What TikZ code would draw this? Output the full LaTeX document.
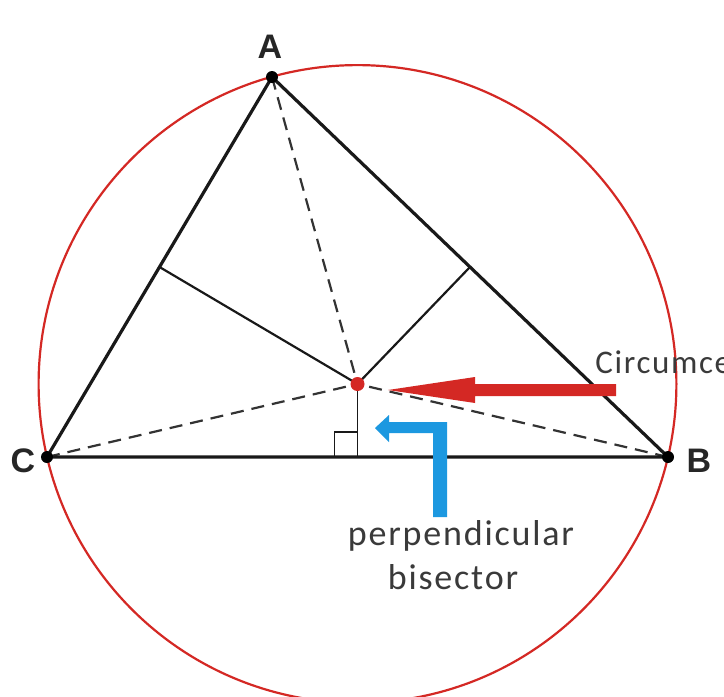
\documentclass[tikz,border=0pt]{standalone}
\usepackage{fontspec}
\setmainfont{Liberation Sans}
\newfontfamily\notefont[LetterSpace=5]{Carlito}
\usetikzlibrary{calc}
\definecolor{cred}{RGB}{212,40,36}
\definecolor{cblue}{RGB}{28,152,224}
\definecolor{ctext}{RGB}{58,58,58}
\begin{document}
\begin{tikzpicture}[x=0.5pt,y=-0.5pt,
  side/.style={line width=1.6pt,black!90},
  bis/.style={line width=1.1pt,black!90},
  dsh/.style={line width=1.1pt,black!80,dash pattern=on 6.5pt off 4pt},
  vdot/.style={circle,fill=black,inner sep=0pt,minimum size=6pt},
  vlabel/.style={font=\fontsize{17}{17}\selectfont\bfseries,text=black!85,inner sep=0pt},
  note/.style={font=\notefont\fontsize{18}{20}\selectfont,text=ctext,inner sep=0pt}]
\useasboundingbox (0,0) rectangle (724,697);
\clip (0,0) rectangle (724,697);
\fill[white] (0,0) rectangle (724,697);
% points
\coordinate (A) at (272,77);
\coordinate (B) at (668,457);
\coordinate (C) at (47,457);
\coordinate (O) at (357.5,384);
\coordinate (MCA) at ($(C)!0.5!(A)$);
\coordinate (MAB) at ($(A)!0.5!(B)$);
\coordinate (MBC) at ($(B)!0.5!(C)$);
% circumcircle
\draw[cred,line width=1.1pt] (O) circle[radius=159.45pt];
% dashed lines to vertices
\draw[dsh] (A) -- (O);
\draw[dsh] (C) -- (O);
\draw[dsh] (B) -- (O);
% perpendicular bisectors
\draw[bis] (MCA) -- (O);
\draw[bis] (MAB) -- (O);
\draw[line width=0.9pt,black!90] (O) -- (MBC);
% right angle mark
\draw[line width=0.9pt,black!90] ($(MBC)+(-23,0)$) -- ($(MBC)+(-23,-25)$) -- ($(MBC)+(0,-25)$);
% triangle
\draw[side,line join=round] (A) -- (B) -- (C) -- cycle;
% vertex dots
\node[vdot] (dA) at (A) {};
\node[vdot] (dB) at (B) {};
\node[vdot] (dC) at (C) {};
\node[circle,fill=cred,inner sep=0pt,minimum size=7pt] (dO) at (O) {};
% labels
\node[vlabel] (lA) at (270,47) {A};
\node[vlabel] (lB) at (699,461) {B};
\node[vlabel] (lC) at (23,461) {C};
% red arrow
\fill[cred] (616,384) -- (475,384) -- (475,377) -- (388,390) -- (475,403) -- (475,396) -- (616,396) -- cycle;
% blue arrow
\fill[cblue] (447,517) -- (447,422) -- (389,422) -- (389,415) -- (375,428) -- (389,442) -- (389,433) -- (433,433) -- (433,517) -- cycle;
% texts
\node[note,font=\notefont\fontsize{16.5}{18}\selectfont,anchor=base west] (tc) at (595,373) {Circumcenter};
\node[note,anchor=base] (tp) at (461,545) {perpendicular};
\node[note,anchor=base] (tb) at (453,589) {bisector};
\end{tikzpicture}
\end{document}
